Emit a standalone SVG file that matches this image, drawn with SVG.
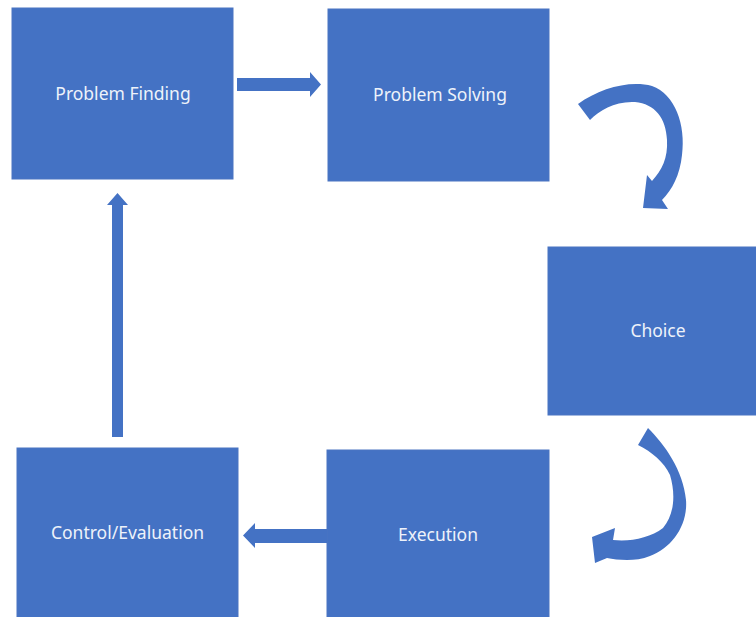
<svg xmlns="http://www.w3.org/2000/svg" width="756" height="617" viewBox="0 0 756 617">
  <style>
    .box { fill: #4472C4; stroke: #4a75c2; stroke-width: 1; }
    .lbl { font-family: "Noto Sans", "Open Sans", "Liberation Sans", sans-serif; font-size: 17.5px; fill: #eef2fa; text-anchor: middle; dominant-baseline: central; }
    .arr { fill: #4472C4; }
  </style>
  <rect width="756" height="617" fill="#ffffff"/>
  <g id="node-problem-finding">
    <rect class="box" x="12" y="8" width="221" height="171"/>
    <text class="lbl" x="123" y="93">Problem Finding</text>
  </g>
  <g id="node-problem-solving">
    <rect class="box" x="328" y="9" width="221" height="172"/>
    <text class="lbl" x="440" y="94">Problem Solving</text>
  </g>
  <g id="node-choice">
    <rect class="box" x="548" y="247" width="220" height="168"/>
    <text class="lbl" x="658" y="330">Choice</text>
  </g>
  <g id="node-execution">
    <rect class="box" x="327" y="450" width="222" height="170"/>
    <text class="lbl" x="438" y="534">Execution</text>
  </g>
  <g id="node-control-evaluation">
    <rect class="box" x="17" y="448" width="221" height="172"/>
    <text class="lbl" x="127.5" y="532">Control/Evaluation</text>
  </g>
  <g id="connectors">
    <path class="arr" d="M237,78 H310 V72 L321,84.5 L310,97 V91 H237 Z"/>
    <path class="arr" d="M578,104 C600,88 630,80 652,86 C675,94 686,125 682,155 C680,175 672,190 662,200 L668,209 L643,208 L647,175 L652,181 C662,170 668,158 667,140 C666,118 655,104 635,102 C615,101 600,110 590,120 Z"/>
    <path class="arr" d="M648,428 C665,445 683,470 686,500 C688,525 672,548 650,556 C635,562 618,560 607,558 L595,563 L592,537 L615,528 L613,540 C630,542 650,538 663,528 C674,515 676,495 670,475 C664,462 652,452 638,445 Z"/>
    <path class="arr" d="M327,529 H255 V523 L243,535.5 L255,548 V543 H327 Z"/>
    <path class="arr" d="M112,437 V205 H107 L117.5,193 L128,205 H123 V437 Z"/>
  </g>
</svg>
